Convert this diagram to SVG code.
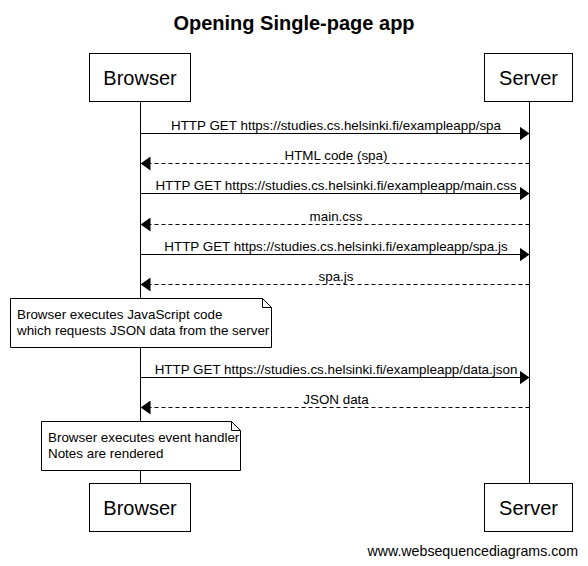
<svg xmlns="http://www.w3.org/2000/svg" width="588" height="566" viewBox="0 0 588 566">
<style>
text{font-family:"Liberation Sans",Arial,sans-serif;fill:#000}
.title{font-size:20px;font-weight:bold;text-anchor:middle}
.actor{font-size:20px;text-anchor:middle}
.lbl{font-size:13.4px;text-anchor:middle}
.note{font-size:13.4px}
.wm{font-size:14.2px;text-anchor:end}
.box{fill:#fff;stroke:#000;stroke-width:1}
.life{stroke:#000;stroke-width:1}
.msg{stroke:#000;stroke-width:1;fill:none}
.dash{stroke-dasharray:4,3}
</style>
<defs>
<marker id="ah" markerWidth="10" markerHeight="14" refX="10" refY="7" orient="auto" markerUnits="userSpaceOnUse">
<path d="M0,0 L10,7 L0,14 Z" fill="#000"/>
</marker>
</defs>
<text class="title" x="294" y="30">Opening Single-page app</text>
<g id="lifelines">
<line class="life" x1="140.5" y1="102" x2="140.5" y2="483"/>
<line class="life" x1="529.5" y1="102" x2="529.5" y2="483"/>
</g>
<g id="connectors">
<line class="msg" x1="140.5" y1="133.5" x2="529.5" y2="133.5" marker-end="url(#ah)"/>
<text class="lbl" x="336" y="130">HTTP GET https://studies.cs.helsinki.fi/exampleapp/spa</text>
<line class="msg dash" x1="529.5" y1="163.5" x2="140.5" y2="163.5" marker-end="url(#ah)"/>
<text class="lbl" x="336" y="160">HTML code (spa)</text>
<line class="msg" x1="140.5" y1="193.5" x2="529.5" y2="193.5" marker-end="url(#ah)"/>
<text class="lbl" x="336" y="190">HTTP GET https://studies.cs.helsinki.fi/exampleapp/main.css</text>
<line class="msg dash" x1="529.5" y1="224.5" x2="140.5" y2="224.5" marker-end="url(#ah)"/>
<text class="lbl" x="336" y="221">main.css</text>
<line class="msg" x1="140.5" y1="254.5" x2="529.5" y2="254.5" marker-end="url(#ah)"/>
<text class="lbl" x="336" y="251">HTTP GET https://studies.cs.helsinki.fi/exampleapp/spa.js</text>
<line class="msg dash" x1="529.5" y1="284.5" x2="140.5" y2="284.5" marker-end="url(#ah)"/>
<text class="lbl" x="336" y="281">spa.js</text>
<line class="msg" x1="140.5" y1="377.5" x2="529.5" y2="377.5" marker-end="url(#ah)"/>
<text class="lbl" x="336" y="374">HTTP GET https://studies.cs.helsinki.fi/exampleapp/data.json</text>
<line class="msg dash" x1="529.5" y1="407.5" x2="140.5" y2="407.5" marker-end="url(#ah)"/>
<text class="lbl" x="336" y="404">JSON data</text>
</g>
<g id="browser-top">
<rect class="box" x="89.5" y="53.5" width="101" height="48"/>
<text class="actor" x="140" y="85">Browser</text>
</g>
<g id="server-top">
<rect class="box" x="484.5" y="53.5" width="88" height="48"/>
<text class="actor" x="528.5" y="85">Server</text>
</g>
<g id="note1">
<path class="box" d="M10.5,298.5 H262.5 L271.5,307.5 V347.5 H10.5 Z"/>
<path class="msg" d="M262.5,298.5 V307.5 H271.5"/>
<text class="note" x="17" y="319">Browser executes JavaScript code</text>
<text class="note" x="17" y="335">which requests JSON data from the server</text>
</g>
<g id="note2">
<path class="box" d="M41.5,421.5 H231.5 L240.5,430.5 V470.5 H41.5 Z"/>
<path class="msg" d="M231.5,421.5 V430.5 H240.5"/>
<text class="note" x="48" y="442">Browser executes event handler</text>
<text class="note" x="48" y="458">Notes are rendered</text>
</g>
<g id="browser-bottom">
<rect class="box" x="89.5" y="483.5" width="101" height="48"/>
<text class="actor" x="140" y="515">Browser</text>
</g>
<g id="server-bottom">
<rect class="box" x="484.5" y="483.5" width="88" height="48"/>
<text class="actor" x="528.5" y="515">Server</text>
</g>
<text class="wm" x="578" y="556">www.websequencediagrams.com</text>
</svg>
